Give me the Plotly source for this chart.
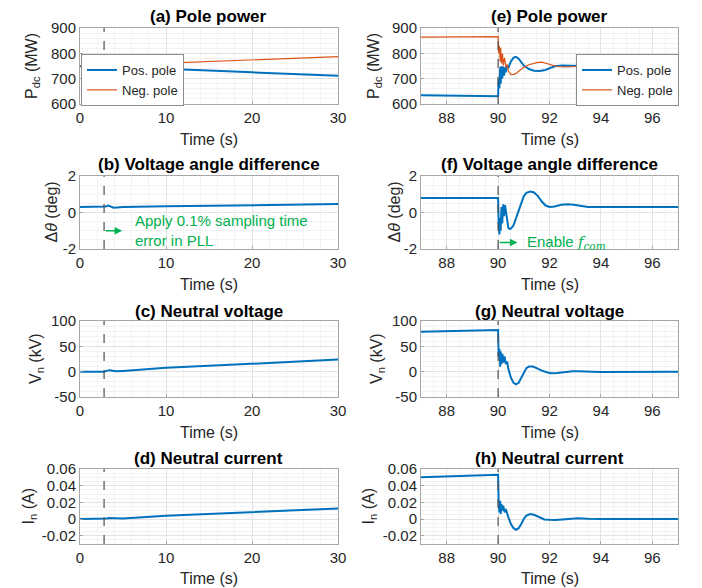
import plotly.graph_objects as go

# ---------------- data ----------------
# (a) pole power, left
t_a = [0, 2.8, 3.2, 3.6, 4.0, 5, 10, 15, 20, 25, 30]
pos_a = [749, 749, 748, 747, 746, 745, 739, 732, 725, 718, 712]
neg_a = [750, 750, 751, 752, 753, 755, 761, 768, 774, 781, 787]

# (b) voltage angle difference, left
t_b = [0, 2.8, 3.0, 3.3, 3.6, 3.9, 4.3, 5, 10, 20, 30]
dth_b = [0.3, 0.3, 0.33, 0.38, 0.33, 0.26, 0.28, 0.3, 0.34, 0.4, 0.46]

# (c) neutral voltage, left
t_c = [0, 2.8, 3.1, 3.4, 3.8, 4.2, 5, 10, 15, 20, 25, 30]
vn_c = [0, 0, 1.5, 3, 2, 0.8, 1.5, 7.5, 11.5, 15.5, 20, 24]

# (d) neutral current, left
t_d = [0, 2.8, 3.1, 3.4, 3.8, 4.2, 5, 10, 15, 20, 25, 30]
in_d = [0, 0, 0.0006, 0.0012, 0.0009, 0.0004, 0.0007, 0.004, 0.0062, 0.0084, 0.0105, 0.0127]

# (e) pole power, right
t_e_pos = [87, 90, 90.02, 90.05, 90.08, 90.1, 90.13, 90.16, 90.2, 90.23, 90.27, 90.3, 90.35,
           90.4, 90.45, 90.5, 90.6, 90.7, 90.8, 90.9, 91.0, 91.2, 91.4, 91.6, 91.8, 92.0,
           92.2, 92.5, 92.8, 93.2, 93.6, 94, 97]
pos_e = [635, 631, 700, 662, 745, 680, 750, 700, 748, 712, 745, 725, 750,
         742, 756, 768, 783, 786, 779, 766, 752, 738, 731, 730, 733, 741,
         749, 752, 751, 748, 747, 748, 748]
t_e_neg = [87, 90, 90.02, 90.05, 90.08, 90.1, 90.13, 90.17, 90.2, 90.25, 90.3, 90.35, 90.4,
           90.5, 90.6, 90.7, 90.8, 91.0, 91.2, 91.5, 91.7, 91.9, 92.1, 92.3, 92.6, 93.0,
           93.5, 97]
neg_e = [864, 866, 800, 830, 768, 822, 760, 800, 752, 782, 745, 756, 730,
         716, 717, 721, 729, 745, 755, 763, 765, 760, 752, 748, 746, 748,
         750, 750]

# (f) voltage angle difference, right
t_f = [87, 90, 90.02, 90.05, 90.08, 90.1, 90.13, 90.16, 90.2, 90.23, 90.27, 90.3, 90.35,
       90.4, 90.45, 90.5, 90.6, 90.7, 90.8, 90.9, 91.0, 91.1, 91.25, 91.4, 91.55, 91.7,
       91.85, 92.0, 92.2, 92.45, 92.7, 92.95, 93.2, 93.5, 94, 97]
dth_f = [0.8, 0.8, -0.5, -1.2, -0.3, -1.0, 0.3, -0.6, 0.45, -0.2, 0.4, 0.1, -0.5,
         -0.85, -0.9, -0.88, -0.7, -0.3, 0.2, 0.6, 0.9, 1.08, 1.15, 1.1, 0.9, 0.6,
         0.38, 0.3, 0.33, 0.42, 0.45, 0.42, 0.35, 0.3, 0.3, 0.3]

# (g) neutral voltage, right
t_g = [87, 90, 90.02, 90.05, 90.08, 90.1, 90.13, 90.17, 90.2, 90.25, 90.3, 90.35, 90.4,
       90.5, 90.6, 90.7, 90.8, 90.9, 91.0, 91.1, 91.2, 91.35, 91.5, 91.7, 91.9, 92.05,
       92.3, 92.6, 92.9, 93.1, 93.5, 94, 97]
vn_g = [79, 82, 30, 45, 10, 40, 15, 35, 18, 30, 15, 20, 5,
        -12, -22, -25, -22, -12, 0, 7, 10, 10, 7, 2, -1, -3,
        -2.5, -0.5, 1, 1, 0, -0.5, 0]

# (h) neutral current, right
t_h = [87, 90, 90.02, 90.05, 90.08, 90.1, 90.13, 90.17, 90.2, 90.25, 90.3, 90.35, 90.4,
       90.5, 90.6, 90.7, 90.8, 90.9, 91.0, 91.1, 91.25, 91.4, 91.6, 91.8, 92.0, 92.2,
       92.5, 92.8, 93.1, 93.5, 94, 97]
in_h = [0.050, 0.053, 0.02, 0.008, 0.022, 0.006, 0.018, 0.01, 0.016, 0.008, 0.012, 0.006, 0.002,
        -0.006, -0.011, -0.013, -0.011, -0.006, 0.0, 0.004, 0.006, 0.005, 0.002, -0.0005, -0.001, -0.0012,
        -0.0005, 0.0005, 0.0008, 0.0002, 0, 0]

titles = ["(a) Pole power", "(b) Voltage angle difference", "(c) Neutral voltage", "(d) Neutral current",
          "(e) Pole power", "(f) Voltage angle difference", "(g) Neutral voltage", "(h) Neutral current"]
ytitles = ["P<sub>dc</sub> (MW)", "Δ<i>θ</i> (deg)", "V<sub>n</sub> (kV)", "I<sub>n</sub> (A)"]
series_names = ["Pos. pole", "Neg. pole"]

y_ticks = [[600, 700, 800, 900], [-2, 0, 2], [-50, 0, 50, 100], [-0.02, 0, 0.02, 0.04, 0.06]]
y_ticktext = [["600", "700", "800", "900"], ["-2", "0", "2"], ["-50", "0", "50", "100"],
              ["-0.02", "0", "0.02", "0.04", "0.06"]]
y_ranges = [[600, 900], [-2, 2], [-50, 100], [-0.03, 0.06]]
y_minor = [20, 0.5, 10, 0.005]
x_left_ticks = [0, 10, 20, 30]
x_right_ticks = [88, 90, 92, 94, 96]
event_left = 2.8
event_right = 90

# ---------------- styling ----------------
BLUE = "#0072BD"
ORANGE = "#D95319"
GREEN = "#00B050"
FONT = "Arial, Liberation Sans, Helvetica, sans-serif"
OFF = 8                      # page body margin of the html page
W, H = 702 - OFF, 588 - OFF  # figure size so that it fills the window

def px(x):  # window pixel -> paper fraction (x)
    return (x - OFF) / W

def py(y):  # window pixel -> paper fraction (y)
    return 1 - (y - OFF) / H

col_x = [(80, 338), (421, 678)]
row_y = [(28, 104), (176, 249), (321, 397), (469, 544)]
title_y = [17, 164, 311, 458]
xtitle_dy = [35, 35, 35, 34]
ytitle_x = [[33, 51, 36, 29], [375, 394, 377, 369]]

fig = go.Figure()

def ax_id(col, row):
    return col * 4 + row + 1

def add(col, row, x, y, color, width, name=None, legend=None, show=False):
    i = ax_id(col, row)
    fig.add_trace(go.Scatter(
        x=x, y=y, mode="lines", line=dict(color=color, width=width),
        name=name, showlegend=show, legend=legend,
        xaxis="x" if i == 1 else f"x{i}", yaxis="y" if i == 1 else f"y{i}"))

add(0, 0, t_a, pos_a, BLUE, 2, series_names[0], "legend", True)
add(0, 0, t_a, neg_a, ORANGE, 1.2, series_names[1], "legend", True)
add(0, 1, t_b, dth_b, BLUE, 2)
add(0, 2, t_c, vn_c, BLUE, 2)
add(0, 3, t_d, in_d, BLUE, 2)
add(1, 0, t_e_pos, pos_e, BLUE, 2, series_names[0], "legend2", True)
add(1, 0, t_e_neg, neg_e, ORANGE, 1.2, series_names[1], "legend2", True)
add(1, 1, t_f, dth_f, BLUE, 2)
add(1, 2, t_g, vn_g, BLUE, 2)
add(1, 3, t_h, in_h, BLUE, 2)

layout = dict(
    width=W, height=H, margin=dict(l=0, r=0, t=0, b=0, autoexpand=False),
    paper_bgcolor="white", plot_bgcolor="white",
    font=dict(family=FONT, size=15, color="#262626"),
)

annotations = []
shapes = []
for col in range(2):
    for row in range(4):
        i = ax_id(col, row)
        xs = "" if i == 1 else str(i)
        x0, x1 = col_x[col]
        yt, yb = row_y[row]
        layout["xaxis" + xs] = dict(
            domain=[px(x0), px(x1)], anchor="y" + xs, automargin=False,
            range=[0, 30] if col == 0 else [87, 97],
            tickvals=x_left_ticks if col == 0 else x_right_ticks,
            showline=True, mirror=True, linecolor="#a6a6a6", linewidth=1,
            ticks="inside", ticklen=3, tickcolor="#a6a6a6",
            showgrid=True, gridcolor="#e3e3e3", gridwidth=1, zeroline=False,
            minor=dict(dtick=2 if col == 0 else 0.5, showgrid=True, gridcolor="#f3f3f3", ticks=""),
            tickfont=dict(size=15, color="#262626"),
        )
        layout["yaxis" + xs] = dict(
            domain=[py(yb), py(yt)], anchor="x" + xs, automargin=False,
            range=y_ranges[row], tickvals=y_ticks[row], ticktext=y_ticktext[row],
            showline=True, mirror=True, linecolor="#a6a6a6", linewidth=1,
            ticks="inside", ticklen=3, tickcolor="#a6a6a6",
            showgrid=True, gridcolor="#e3e3e3", gridwidth=1, zeroline=False,
            minor=dict(dtick=y_minor[row], showgrid=True, gridcolor="#f3f3f3", ticks=""),
            tickfont=dict(size=15, color="#262626"),
        )
        annotations.append(dict(
            text="<b>" + titles[i - 1] + "</b>", xref="paper", yref="paper",
            x=px((x0 + x1) / 2), y=py(title_y[row]), xanchor="center", yanchor="middle",
            showarrow=False, font=dict(size=17, color="black", family=FONT)))
        annotations.append(dict(
            text="Time (s)", xref="paper", yref="paper",
            x=px((x0 + x1) / 2), y=py(yb + xtitle_dy[row]), xanchor="center", yanchor="middle",
            showarrow=False, font=dict(size=16, color="#262626", family=FONT)))
        annotations.append(dict(
            text=ytitles[row], xref="paper", yref="paper", textangle=-90,
            x=px(ytitle_x[col][row]), y=py((yt + yb) / 2), xanchor="center", yanchor="middle",
            showarrow=False, font=dict(size=16, color="#262626", family=FONT)))
        shapes.append(dict(
            type="line", xref="x" + xs, yref="y" + xs + " domain",
            x0=event_left if col == 0 else event_right, x1=event_left if col == 0 else event_right,
            y0=0, y1=1, line=dict(color="#505050", width=1.2, dash="dash")))

annotations.append(dict(
    x=4.9, y=-1.0, ax=event_left, ay=-1.0, xref="x2", yref="y2", axref="x2", ayref="y2",
    text="", showarrow=True, arrowhead=2, arrowsize=1, arrowwidth=1.5, arrowcolor=GREEN))
annotations.append(dict(
    x=6.2, y=-1.0, xref="x2", yref="y2", xanchor="left", yanchor="middle", align="left",
    text="Apply 0.1% sampling time<br>error in PLL", showarrow=False,
    font=dict(size=15, color=GREEN, family=FONT)))
annotations.append(dict(
    x=90.75, y=-1.65, ax=event_right, ay=-1.65, xref="x6", yref="y6", axref="x6", ayref="y6",
    text="", showarrow=True, arrowhead=2, arrowsize=1, arrowwidth=1.5, arrowcolor=GREEN))
annotations.append(dict(
    x=91.05, y=-1.65, xref="x6", yref="y6", xanchor="left", yanchor="middle",
    text="Enable <span style='font-family:DejaVu Serif, serif'><i>f</i><sub><i>com</i></sub></span>",
    showarrow=False, font=dict(size=15, color=GREEN, family=FONT)))

layout["annotations"] = annotations
layout["shapes"] = shapes
legend_common = dict(
    yanchor="bottom", bgcolor="white", bordercolor="#8c8c8c", borderwidth=1,
    font=dict(size=13, color="#262626", family=FONT), itemwidth=30, tracegroupgap=0,
    traceorder="normal", itemclick=False)
layout["legend"] = dict(x=px(81), y=py(106), xanchor="left", **legend_common)
layout["legend2"] = dict(x=px(679), y=py(106), xanchor="right", **legend_common)

fig.update_layout(**layout)
fig.write_html("out.html")
